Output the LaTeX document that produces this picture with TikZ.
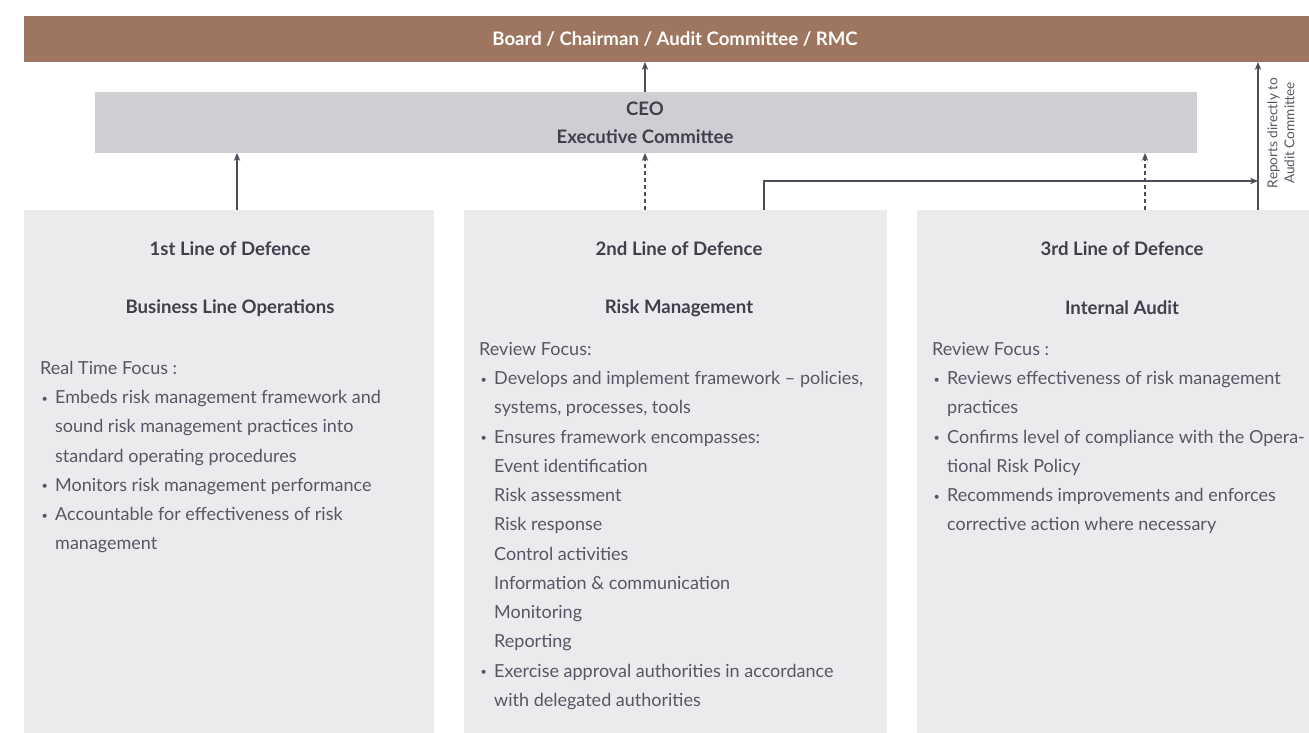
\documentclass[tikz,border=0pt]{standalone}
\usepackage{fontspec}
\usepackage{graphicx}
\setmainfont{Lato}
\usetikzlibrary{arrows.meta}
\definecolor{board}{HTML}{9E7660}
\definecolor{ceo}{HTML}{CFCED3}
\definecolor{col}{HTML}{ECEAED}
\definecolor{txt}{HTML}{555764}
\definecolor{head}{HTML}{3E404C}
\definecolor{ln}{HTML}{4A4E5A}
\newcommand\bul{\makebox[15pt][l]{\hspace{1.5pt}\raisebox{1.5pt}{\scalebox{0.6}{\textbullet}}}}
\newcommand\ind{\hspace*{15pt}}
\begin{document}
\begin{tikzpicture}[x=1pt,y=-1pt,
  body/.style={anchor=north west,inner sep=0pt,align=left,text=txt,font=\fontsize{18}{29.25}\selectfont},
  hd/.style={text=head,font=\fontsize{18.6}{21}\selectfont\bfseries,inner sep=0pt},
  conn/.style={draw=ln,line width=1.1pt,-{Stealth[length=8pt,width=6.5pt]}},
  dconn/.style={conn,dash pattern=on 4pt off 3pt}]
\useasboundingbox (0,0) rectangle (1309,733);
\fill[board] (24,16) rectangle (1309,62);
\node[text=white,font=\fontsize{18.6}{21}\selectfont\bfseries,inner sep=0pt] (board) at (675,39) {Board / Chairman / Audit Committee / RMC};
\coordinate (boardS) at (645,62);
\coordinate (boardR) at (1258,62);
\fill[ceo] (95,92) rectangle (1197,153);
\node[hd] (ceo) at (645,109) {CEO};
\node[hd] (exec) at (645,137) {Executive Committee};
\coordinate (ceoN) at (645,92);
\coordinate (ceoS1) at (237,153);
\coordinate (ceoS2) at (645,153);
\coordinate (ceoS3) at (1145,153);
\fill[col] (24,210) rectangle (434,733);
\fill[col] (464,210) rectangle (887,733);
\fill[col] (917,210) rectangle (1309,733);
\coordinate (c1) at (237,210);
\coordinate (c2) at (645,210);
\coordinate (c2b) at (764,210);
\coordinate (c3) at (1145,210);
\coordinate (c3b) at (1258,210);
\coordinate (corner) at (764,181);
\coordinate (target) at (1258,181);
% connectors
\draw[conn] (ceoN) -- (boardS);
\draw[conn] (c1) -- (ceoS1);
\draw[dconn] (c2) -- (ceoS2);
\draw[dconn] (c3) -- (ceoS3);
\draw[conn] (c2b) -- (corner) -- (target);
\draw[conn] (c3b) -- (boardR);
\node[rotate=90,align=center,text=txt,font=\fontsize{13.6}{17}\selectfont,inner sep=0pt] (rep) at (1281,133) {Reports directly to\\Audit Committee};
% headings
\node[hd] (h1a) at (230,249) {1st Line of Defence};
\node[hd] (h1b) at (230,308) {Business Line Operations};
\node[hd] (h2a) at (679,249) {2nd Line of Defence};
\node[hd] (h2b) at (679,308) {Risk Management};
\node[hd] (h3a) at (1122,249) {3rd Line of Defence};
\node[hd] (h3b) at (1122,308) {Internal Audit};
% bodies
\node[body] (b1) at (40,361) {Real Time Focus :\\
\bul Embeds risk management framework and\\
\ind sound risk management practices into\\
\ind standard operating procedures\\
\bul Monitors risk management performance\\
\bul Accountable for effectiveness of risk\\
\ind management};
\node[body] (b2) at (479,342) {Review Focus:\\
\bul Develops and implement framework -- policies,\\
\ind systems, processes, tools\\
\bul Ensures framework encompasses:\\
\ind Event identification\\
\ind Risk assessment\\
\ind Risk response\\
\ind Control activities\\
\ind Information \& communication\\
\ind Monitoring\\
\ind Reporting\\
\bul Exercise approval authorities in accordance\\
\ind with delegated authorities};
\node[body] (b3) at (932,342) {Review Focus :\\
\bul Reviews effectiveness of risk management\\
\ind practices\\
\bul Confirms level of compliance with the Opera-\\
\ind tional Risk Policy\\
\bul Recommends improvements and enforces\\
\ind corrective action where necessary};
\end{tikzpicture}
\end{document}
